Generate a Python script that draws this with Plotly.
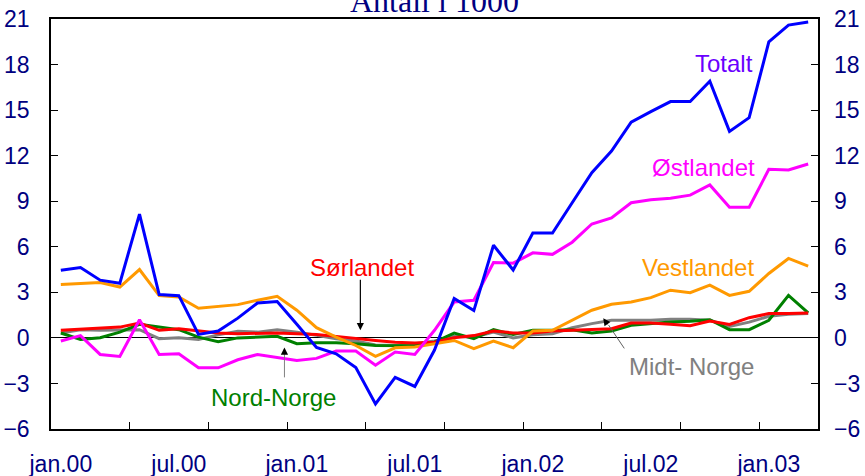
import plotly.graph_objects as go

months = list(range(39))
tick_labels = ["jan.00", "jul.00", "jan.01", "jul.01", "jan.02", "jul.02", "jan.03"]
tick_label_pos = [0, 6, 12, 18, 24, 30, 36]
minor_tick_pos = [3.5, 7.5, 11.5, 15.5, 19.5, 23.5, 27.5, 31.5, 35.5]
y_ticks = [-6, -3, 0, 3, 6, 9, 12, 15, 18, 21]

totalt = [4.45, 4.63, 3.8, 3.6, 8.15, 2.85, 2.78, 0.23, 0.45, 1.3, 2.3, 2.4,
          0.9, -0.63, -1.05, -1.95, -4.35, -2.6, -3.2, -0.8, 2.6, 1.8, 6.1, 4.47,
          6.9, 6.9, 8.9, 10.88, 12.3, 14.2, 14.9, 15.56, 15.56, 16.9, 13.6, 14.5,
          19.5, 20.6, 20.8]
ostlandet = [-0.2, 0.15, -1.09, -1.22, 1.2, -1.09, -1.04, -1.97, -1.97, -1.44, -1.09, -1.27,
             -1.49, -1.35, -0.87, -0.87, -1.8, -0.93, -1.09, 0.5, 2.36, 2.48, 4.96, 4.92,
             5.6, 5.5, 6.3, 7.5, 7.9, 8.9, 9.1, 9.2, 9.4, 10.07, 8.6, 8.6,
             11.1, 11.06, 11.45]
vestlandet = [3.51, 3.58, 3.64, 3.35, 4.5, 2.78, 2.7, 1.95, 2.05, 2.19, 2.48, 2.74,
              1.82, 0.67, 0.05, -0.5, -1.22, -0.65, -0.6, -0.38, -0.17, -0.71, -0.21, -0.65,
              0.45, 0.5, 1.16, 1.82, 2.21, 2.36, 2.65, 3.14, 2.98, 3.47, 2.8, 3.07,
              4.24, 5.23, 4.72]
sorlandet = [0.5, 0.58, 0.67, 0.71, 0.98, 0.5, 0.6, 0.45, 0.33, 0.28, 0.32, 0.32,
             0.28, 0.23, 0.1, -0.05, -0.17, -0.28, -0.34, -0.28, 0.01, 0.15, 0.45, 0.33,
             0.32, 0.45, 0.5, 0.54, 0.6, 0.98, 0.98, 0.89, 0.8, 1.11, 0.89, 1.33,
             1.6, 1.6, 1.64]
nord_norge = [0.32, -0.1, 0.01, 0.38, 0.89, 0.71, 0.54, 0.05, -0.25, 0.0, 0.05, 0.1,
              -0.38, -0.32, -0.32, -0.38, -0.5, -0.52, -0.52, -0.28, 0.32, -0.05, 0.54, 0.22,
              0.5, 0.5, 0.54, 0.32, 0.45, 0.83, 0.94, 1.04, 1.09, 1.2, 0.54, 0.54,
              1.16, 2.8, 1.64]
midt_norge = [0.32, 0.54, 0.5, 0.5, 0.54, -0.05, 0.01, -0.1, 0.2, 0.43, 0.38, 0.54,
              0.38, 0.17, -0.05, -0.21, -0.47, -0.5, -0.38, -0.21, 0.1, 0.05, 0.38, 0.0,
              0.21, 0.28, 0.67, 0.94, 1.16, 1.16, 1.16, 1.22, 1.22, 1.16, 0.76, 1.04,
              1.42, 1.55, 1.6]

series = [
    ("Midt- Norge", midt_norge, "#808080"),
    ("Nord-Norge", nord_norge, "#008000"),
    ("Sørlandet", sorlandet, "#FF0000"),
    ("Vestlandet", vestlandet, "#FF9900"),
    ("Østlandet", ostlandet, "#FF00FF"),
    ("Totalt", totalt, "#0000FF"),
]

NAVY = "#000080"
FONT = "Liberation Sans, Arial, sans-serif"

fig = go.Figure()
for name, vals, col in series:
    fig.add_trace(go.Scatter(x=months, y=vals, mode="lines", name=name,
                             line=dict(color=col, width=3), showlegend=False))
# helper trace so the overlaid tick axes are drawn
fig.add_trace(go.Scatter(x=[None], y=[None], xaxis="x2", yaxis="y2", showlegend=False))

fig.update_layout(
    width=865, height=476,
    margin=dict(l=51, r=47, t=19, b=47),
    plot_bgcolor="white", paper_bgcolor="white",
    showlegend=False,
    xaxis=dict(range=[-0.5, 38.5], tickvals=tick_label_pos, ticktext=tick_labels,
               ticks="", showgrid=False, zeroline=False, automargin=False,
               showline=True, linecolor="black", linewidth=1.5, mirror=True,
               tickfont=dict(family=FONT, size=23, color=NAVY),
               ticklabelstandoff=14),
    xaxis2=dict(range=[-0.5, 38.5], overlaying="x", side="bottom", anchor="y",
                tickvals=minor_tick_pos, ticks="inside", ticklen=7, tickcolor="black",
                tickwidth=1, showticklabels=False, showgrid=False, zeroline=False,
                showline=False, automargin=False),
    yaxis=dict(range=[-6, 21], tickvals=y_ticks, ticks="inside", ticklen=7,
               tickcolor="black", showgrid=False, automargin=False,
               zeroline=True, zerolinecolor="black", zerolinewidth=1,
               showline=True, linecolor="black", linewidth=1.5, mirror=True,
               tickfont=dict(family=FONT, size=23, color=NAVY),
               ticklabelstandoff=15),
    yaxis2=dict(range=[-6, 21], tickvals=y_ticks, ticks="inside", ticklen=7,
                tickcolor="black", showgrid=False, zeroline=False, automargin=False,
                overlaying="y", side="right", anchor="x", showline=False,
                tickfont=dict(family=FONT, size=23, color=NAVY),
                ticklabelstandoff=15),
)

# title (partly cut at the top, as in the reference)
fig.add_annotation(text="Antall i 1000", xref="paper", yref="paper", x=0.5, y=1,
                   xanchor="center", yanchor="bottom", showarrow=False, yshift=-2,
                   font=dict(family="Liberation Serif, Times New Roman, serif", size=32, color=NAVY))

labels = [
    ("Totalt", 33.74, 18.1, "#6A00FF"),
    ("Østlandet", 32.67, 11.19, "#FF00FF"),
    ("Vestlandet", 32.4, 4.65, "#FF9900"),
    ("Sørlandet", 15.31, 4.62, "#FF0000"),
    ("Nord-Norge", 10.81, -3.9, "#008000"),
    ("Midt- Norge", 32.09, -1.91, "#808080"),
]
for txt, lx, ly, col in labels:
    fig.add_annotation(text=txt, x=lx, y=ly, xref="x", yref="y", showarrow=False,
                       xanchor="center", yanchor="middle",
                       font=dict(family=FONT, size=24, color=col))

# arrows
fig.add_annotation(text="", x=15.23, y=0.5, ax=15.23, ay=3.93, xref="x", yref="y",
                   axref="x", ayref="y", showarrow=True, arrowhead=2, arrowsize=1.2,
                   arrowwidth=1.2, arrowcolor="black")
fig.add_shape(type="line", x0=11.37, y0=-2.6, x1=11.37, y1=-1.0, xref="x", yref="y",
              line=dict(color="#808080", width=1))
fig.add_annotation(text="", x=11.37, y=-0.63, ax=11.37, ay=-1.1, xref="x", yref="y",
                   axref="x", ayref="y", showarrow=True, arrowhead=2, arrowsize=1.2,
                   arrowwidth=1.2, arrowcolor="black")
fig.add_shape(type="line", x0=28.65, y0=-0.69, x1=27.85, y1=0.85, xref="x", yref="y",
              line=dict(color="#606060", width=1))
fig.add_annotation(text="", x=27.58, y=1.29, ax=27.85, ay=0.8, xref="x", yref="y",
                   axref="x", ayref="y", showarrow=True, arrowhead=2, arrowsize=1.2,
                   arrowwidth=1.2, arrowcolor="black")

fig.write_html("out.html", config={"displayModeBar": False},
               post_script="document.body.style.margin='0';document.body.style.padding='0';")
